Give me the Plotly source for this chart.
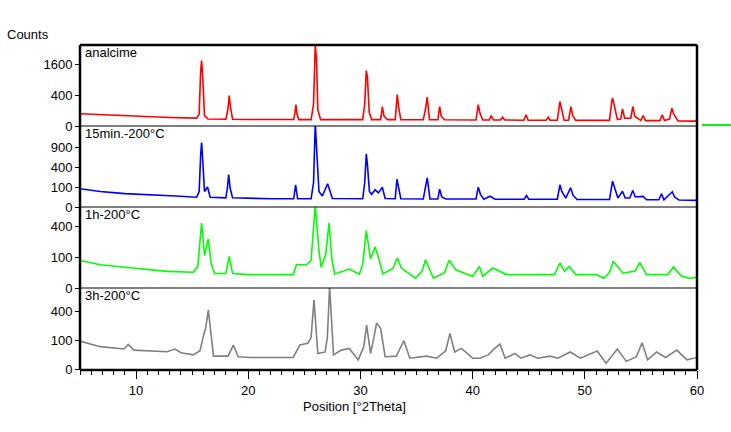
import numpy as np
import plotly.graph_objects as go

W, H = 731, 432

# ---------------- data (counts vs 2theta) ----------------
red_theta = [5.0, 7.0, 9.0, 11.0, 13.0, 15.4, 15.62, 15.76, 15.84, 15.95, 16.1, 16.4, 18.0, 18.18, 18.3, 18.42, 18.6,
             20.0, 22.0, 24.05, 24.17, 24.25, 24.35, 24.5, 25.6, 25.82, 25.97, 26.08, 26.2, 26.45, 28.0, 30.2, 30.38,
             30.52, 30.62, 30.78, 31.0, 31.8, 31.95, 32.1, 32.4, 33.1, 33.28, 33.4, 33.6, 35.6, 35.8, 35.95, 36.15,
             36.9, 37.06, 37.2, 37.5, 40.3, 40.5, 40.65, 40.9, 41.5, 41.65, 41.85, 42.5, 42.67, 42.85, 44.55, 44.75,
             44.95, 46.55, 46.74, 46.9, 47.55, 47.78, 47.92, 48.15, 48.55, 48.76, 48.92, 49.2, 49.7, 52.2, 52.4, 52.47,
             52.62, 52.9, 53.2, 53.36, 53.55, 54.1, 54.28, 54.45, 55.0, 55.2, 55.4, 56.7, 56.9, 57.1, 57.55, 57.76,
             57.92, 58.3, 60.0]
red_counts = [63, 52, 43, 36, 30, 26, 60, 1300, 1785, 900, 45, 20, 19, 110, 388, 140, 19,
              18, 18, 18, 80, 192, 60, 17, 17, 200, 2750, 1900, 110, 17, 17, 17, 200,
              1282, 1000, 80, 17, 17, 158, 40, 17, 17, 413, 150, 17, 16, 120, 345, 16,
              16, 158, 40, 16, 15, 192, 70, 15, 15, 46, 15, 15, 32, 15, 14, 52,
              14, 14, 32, 14, 14, 250, 120, 14, 14, 158, 45, 13, 13, 13, 250, 331,
              180, 18, 20, 123, 25, 25, 158, 40, 12, 46, 12, 12, 52, 12, 20, 132,
              60, 11, 10]

blue_theta = [5.0, 6.8, 9.0, 11.2, 13.5, 15.4, 15.62, 15.76, 15.84, 15.95, 16.1, 16.37, 16.6, 18.0, 18.15, 18.25,
              18.38, 18.6, 20.0, 22.0, 24.05, 24.22, 24.4, 25.6, 25.82, 25.97, 26.1, 26.3, 26.6, 27.07, 27.5, 30.2,
              30.38, 30.52, 30.62, 30.8, 31.0, 31.3, 31.6, 31.95, 32.2, 33.1, 33.25, 33.4, 33.6, 35.6, 35.8, 35.95,
              36.2, 36.9, 37.06, 37.25, 37.6, 40.3, 40.5, 40.7, 41.0, 41.54, 42.0, 44.6, 44.8, 45.0, 47.55, 47.78,
              47.95, 48.3, 48.73, 48.95, 49.3, 52.2, 52.47, 52.65, 52.95, 53.36, 53.6, 54.0, 54.28, 54.5, 55.2,
              55.5, 56.6, 56.84, 57.05, 57.8, 58.0, 58.4, 60.0]
blue_counts = [83, 60, 45, 39, 30, 24, 60, 700, 1035, 500, 60, 100, 24, 21, 100, 264,
               90, 21, 18, 17, 17, 123, 17, 17, 150, 1750, 800, 60, 30, 135, 18, 17,
               150, 708, 450, 60, 40, 74, 50, 98, 18, 17, 193, 80, 17, 16, 120, 213,
               16, 16, 79, 25, 16, 16, 98, 40, 15, 29, 15, 15, 33, 15, 15, 123,
               60, 20, 92, 35, 14, 14, 166, 90, 20, 62, 20, 20, 68, 25, 28,
               13, 13, 44, 13, 58, 25, 12, 11]

green_theta = [5.0, 6.8, 9.7, 12.75, 15.1, 15.5, 15.84, 16.1, 16.43, 16.7, 17.0, 18.0, 18.3, 18.6, 20.0, 24.0, 24.3,
               25.2, 25.6, 25.97, 26.3, 26.5, 26.9, 27.2, 27.45, 27.7, 29.0, 29.9, 30.2, 30.52, 30.9, 31.3, 31.6,
               32.0, 32.9, 33.28, 33.65, 34.9, 35.5, 35.8, 36.5, 37.5, 37.9, 38.5, 40.0, 40.6, 40.9, 41.8, 43.0,
               47.3, 47.78, 48.2, 48.6, 49.2, 51.0, 51.7, 52.2, 52.53, 53.4, 54.5, 54.9, 55.5, 57.4, 57.9, 58.6,
               59.3, 60.0]
green_counts = [80, 57, 42, 29, 26, 50, 445, 110, 253, 60, 22, 22, 106, 22, 19, 19, 57,
                57, 80, 720, 150, 45, 120, 445, 90, 21, 38, 20, 60, 346, 90, 177, 100,
                21, 40, 95, 42, 10, 30, 84, 10, 25, 81, 35, 14, 49, 14, 42, 19,
                19, 66, 30, 49, 19, 19, 10, 25, 75, 23, 30, 69, 19, 19, 46, 15,
                10, 12]

gray_theta = [5.0, 6.8, 8.9, 9.3, 9.8, 12.75, 13.47, 14.0, 15.1, 15.7, 16.0, 16.2, 16.44, 16.65, 16.9, 18.2, 18.67,
              19.1, 20.2, 24.0, 24.6, 25.3, 25.6, 25.86, 26.05, 26.2, 26.85, 27.05, 27.25, 27.45, 27.6, 28.3, 29.0,
              29.8, 30.3, 30.55, 30.9, 31.2, 31.44, 31.8, 32.2, 33.2, 33.87, 34.4, 35.9, 36.8, 37.6, 37.98, 38.4,
              39.0, 40.0, 40.65, 41.4, 41.8, 42.43, 42.9, 43.77, 44.3, 45.1, 45.8, 46.9, 47.6, 48.7, 49.6, 51.1,
              51.9, 52.9, 53.7, 54.6, 55.1, 55.6, 56.4, 57.2, 58.2, 59.1, 60.0]
gray_counts = [94, 60, 48, 73, 43, 36, 48, 32, 24, 40, 131, 200, 418, 150, 20, 20, 69,
               18, 16, 16, 69, 79, 120, 572, 150, 29, 35, 120, 820, 200, 24, 43, 51,
               10, 60, 232, 29, 120, 256, 199, 18, 20, 96, 14, 20, 14, 40, 153, 35,
               51, 14, 14, 24, 43, 75, 14, 29, 14, 24, 14, 20, 14, 35, 14, 39,
               4, 48, 7, 18, 83, 10, 35, 16, 43, 10, 16]

series_names = ["analcime", "15min.-200°C", "1h-200°C", "3h-200°C"]
series_colors = ["#ff0000", "#0000ff", "#00ff00", "#808080"]
series_theta = [red_theta, blue_theta, green_theta, gray_theta]
series_counts = [red_counts, blue_counts, green_counts, gray_counts]

# y tick labels (counts) per panel, panel maxima in sqrt(counts)
panel_ticks = [[0, 400, 1600], [0, 100, 400, 900], [0, 100, 400], [0, 100, 400]]
panel_sqrt_max = [52.3, 40.5, 26.3, 28.1]

x_major = [10, 20, 30, 40, 50, 60]

# ---------------- layout geometry (pixels) ----------------
left_px, right_px = 80, 697
panel_edges_px = [45, 126, 207, 288, 369]


def px_x(p):
    return p / W


def px_y(p):
    return 1 - p / H


fig = go.Figure()
layout_axes = {}
for i in range(4):
    yname = "y" if i == 0 else f"y{i+1}"
    fig.add_trace(go.Scatter(
        x=series_theta[i], y=np.sqrt(np.array(series_counts[i], dtype=float)),
        mode="lines", line=dict(color=series_colors[i], width=1.6),
        xaxis="x", yaxis=yname, showlegend=False, hoverinfo="skip"))
    key = "yaxis" if i == 0 else f"yaxis{i+1}"
    layout_axes[key] = dict(
        domain=[px_y(panel_edges_px[i + 1]), px_y(panel_edges_px[i])],
        range=[0, panel_sqrt_max[i]],
        tickvals=[np.sqrt(v) for v in panel_ticks[i]],
        ticktext=[str(v) for v in panel_ticks[i]],
        ticks="outside", ticklen=5, tickwidth=1, tickcolor="black",
        showgrid=False, zeroline=False, showline=False, automargin=False,
        anchor="free", position=px_x(left_px),
        tickfont=dict(family="Liberation Sans, Arial", size=13, color="black"),
        fixedrange=True,
    )

fig.update_layout(
    width=W, height=H, autosize=False,
    margin=dict(l=0, r=0, t=0, b=0, pad=0, autoexpand=False),
    paper_bgcolor="white", plot_bgcolor="white",
    xaxis=dict(
        domain=[px_x(left_px), px_x(right_px)], range=[5, 60],
        tickvals=x_major, ticktext=[str(v) for v in x_major],
        ticks="outside", ticklen=8, tickwidth=1, tickcolor="black",
        minor=dict(dtick=1, tick0=0, ticks="outside", ticklen=4, tickwidth=1, tickcolor="black", showgrid=False),
        showgrid=False, zeroline=False, showline=False, automargin=False,
        anchor="free", position=px_y(panel_edges_px[4] + 1),
        tickfont=dict(family="Liberation Sans, Arial", size=13, color="black"),
    ),
    **layout_axes,
)

shapes = []
# thick outer frame
frame_top, frame_bot = panel_edges_px[0], panel_edges_px[4] + 1
for (x0, y0, x1, y1) in [(left_px, frame_top, right_px, frame_top),
                         (left_px, frame_bot, right_px, frame_bot),
                         (left_px, frame_top, left_px, frame_bot),
                         (right_px, frame_top, right_px, frame_bot)]:
    shapes.append(dict(type="line", xref="paper", yref="paper",
                       x0=px_x(x0), x1=px_x(x1), y0=px_y(y0), y1=px_y(y1),
                       line=dict(color="black", width=2.5)))
# thin separators
for e in panel_edges_px[1:4]:
    shapes.append(dict(type="line", xref="paper", yref="paper",
                       x0=px_x(left_px), x1=px_x(right_px), y0=px_y(e), y1=px_y(e),
                       line=dict(color="black", width=1)))
# legend fragment at the right edge
shapes.append(dict(type="line", xref="paper", yref="paper",
                   x0=px_x(702), x1=px_x(731), y0=px_y(125), y1=px_y(125),
                   line=dict(color="#00ff00", width=2)))
fig.update_layout(shapes=shapes)

font = dict(family="Liberation Sans, Arial", size=13, color="black")
annotations = [
    dict(text="Counts", x=px_x(5), y=px_y(35), xanchor="left", yanchor="middle"),
    dict(text="Position [°2Theta]", x=px_x(354), y=px_y(406), xanchor="center", yanchor="middle"),
]
label_offsets = [52.5, 133, 214.5, 295.5]
for i in range(4):
    annotations.append(dict(text=series_names[i], x=px_x(83), y=px_y(label_offsets[i]),
                            xanchor="left", yanchor="middle"))
for a in annotations:
    a.update(xref="paper", yref="paper", showarrow=False, font=font)
fig.update_layout(annotations=annotations)

fig.write_html("out.html")
